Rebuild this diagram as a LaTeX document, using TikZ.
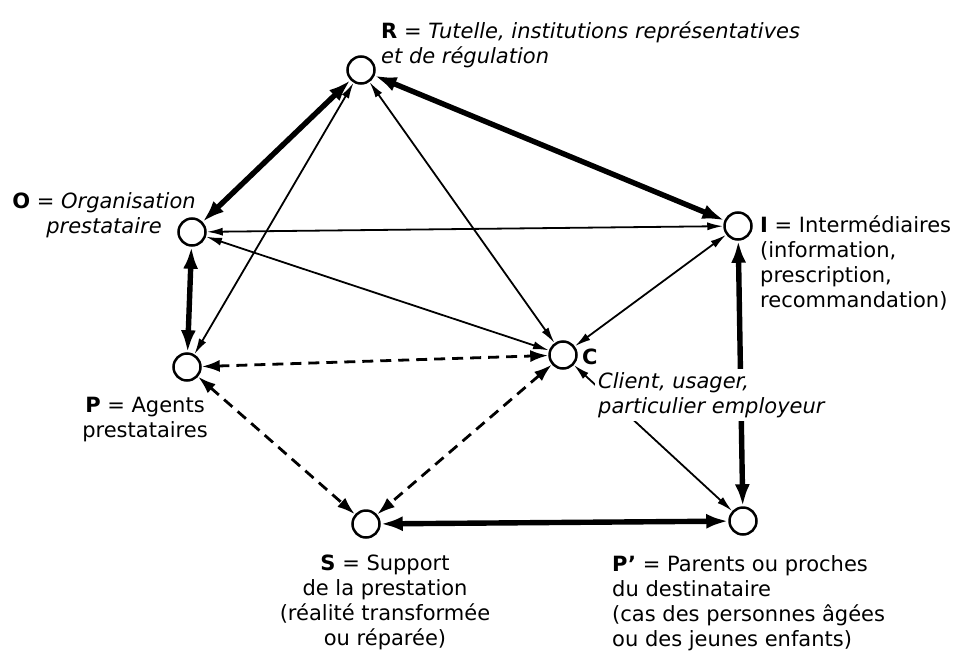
\documentclass[tikz,border=0pt]{standalone}
\usepackage{fontspec}
\setmainfont{DejaVu Sans}
\usetikzlibrary{positioning, arrows.meta, calc}

\tikzset{
    pt/.style={circle, draw, line width=2.5pt, minimum size=27pt, inner sep=0pt, fill=white},
    thin link/.style={line width=1.8pt, {Latex[length=16pt,width=8pt]}-{Latex[length=16pt,width=8pt]}},
    thick link/.style={line width=5.4pt, {Latex[length=22pt,width=15pt]}-{Latex[length=22pt,width=15pt]}},
    dash link/.style={line width=2.8pt, dash pattern=on 11pt off 7pt, {Latex[length=18pt,width=12pt]}-{Latex[length=18pt,width=12pt]}},
    lbl/.style={font=\fontsize{21}{25}\selectfont, inner sep=0pt},
}

\begin{document}
\begin{tikzpicture}[x=1pt, y=-1pt]
    \useasboundingbox (0,0) rectangle (956,656);

    % the actors
    \foreach \n/\x/\y in {R/361/70, O/192/232, I/738/226, P/187/367, C/563/355, S/366/524, Pp/743/521}
    {
        \node[pt] (\n) at (\x,\y) {};
    }

    % thick two-way links
    \foreach \a/\b in {R/O, O/P, R/I, I/Pp, S/Pp}
    {
        \draw[thick link] (\a) -- (\b);
    }

    % thin two-way links
    \foreach \a/\b in {R/P, R/C, O/I, O/C, I/C, C/Pp}
    {
        \draw[thin link] (\a) -- (\b);
    }

    % dashed links
    \foreach \a/\b in {P/C, P/S, C/S}
    {
        \draw[dash link] (\a) -- (\b);
    }

    % labels
    \node[lbl, anchor=north west, align=left] (Rlbl) at (381,22)
        {\textbf{R} = \textit{Tutelle, institutions représentatives}\\\textit{et de régulation}};
    \node[lbl, anchor=north, align=center] (Olbl) at (104,192)
        {\textbf{O} = \textit{Organisation}\\\textit{prestataire}};
    \node[lbl, anchor=north, align=center] (Plbl) at (145,397)
        {\textbf{P} = Agents\\prestataires};
    \node[lbl, anchor=west] (Clbl) at (582,357) {\textbf{C}};
    \node[lbl, anchor=north west, align=left, fill=white, inner sep=3pt] (Cdesc) at (595,369)
        {\textit{Client, usager,}\\\textit{particulier employeur}};
    \node[lbl, anchor=north west, align=left] (Ilbl) at (760,215)
        {\textbf{I} = Intermédiaires\\(information,\\prescription,\\recommandation)};
    \node[lbl, anchor=north, align=center] (Slbl) at (385,555)
        {\textbf{S} = Support\\de la prestation\\(réalité transformée\\ou réparée)};
    \node[lbl, anchor=north west, align=left] (Pplbl) at (612,555)
        {\textbf{P’} = Parents ou proches\\du destinataire\\(cas des personnes âgées\\ou des jeunes enfants)};
\end{tikzpicture}
\end{document}
